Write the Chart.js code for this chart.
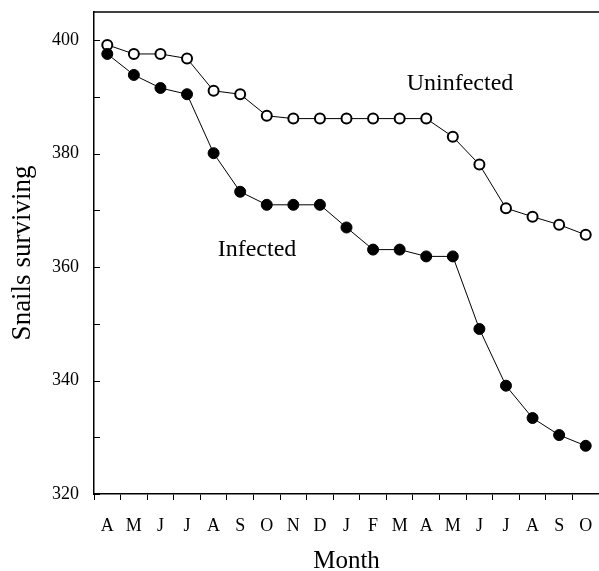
<!DOCTYPE html>
<html>
<head>
<meta charset="utf-8">
<style>
  html, body { margin: 0; padding: 0; background: #fff; overflow: hidden; }
  #wrap { width: 599px; height: 571px; position: relative; }
</style>
<script src="https://cdn.jsdelivr.net/npm/chart.js@4.4.1/dist/chart.umd.min.js"></script>
</head>
<body>
<div id="wrap"><canvas id="snails"></canvas></div>
<script>
// months from April to the following October
const months = ['A', 'M', 'J', 'J', 'A', 'S', 'O', 'N', 'D', 'J', 'F', 'M', 'A', 'M', 'J', 'J', 'A', 'S', 'O'];
const uninfected = [399.2, 397.6, 397.6, 396.8, 391.1, 390.5, 386.7, 386.2, 386.2, 386.2, 386.2, 386.2, 386.2, 383.0, 378.1, 370.4, 368.9, 367.5, 365.7];
const infected = [397.6, 393.9, 391.6, 390.5, 380.1, 373.3, 371.0, 371.0, 371.0, 367.0, 363.1, 363.1, 361.9, 361.9, 349.1, 339.1, 333.4, 330.4, 328.5];
const yLabels = [320, 340, 360, 380, 400];

const serif = '"Liberation Serif", "Times New Roman", serif';

// inside tick marks on the y axis, top frame line and the two series names
const extras = {
    id: 'extras',
    afterDraw(chart) {
        const ctx = chart.ctx;
        const area = chart.chartArea;
        const y = chart.scales.y;
        ctx.save();
        ctx.strokeStyle = '#000';
        ctx.lineWidth = 1;
        y.ticks.forEach(t => {
            const py = Math.round(y.getPixelForValue(t.value)) + 0.5;
            ctx.beginPath();
            ctx.moveTo(area.left, py);
            ctx.lineTo(area.left + 6, py);
            ctx.stroke();
        });
        ctx.lineWidth = 1.5;
        ctx.beginPath();
        ctx.moveTo(area.left, area.top);
        ctx.lineTo(area.right, area.top);
        ctx.stroke();

        ctx.fillStyle = '#000';
        ctx.font = '24px ' + serif;
        ctx.textAlign = 'center';
        ctx.textBaseline = 'middle';
        ctx.fillText('Uninfected', 460, 84);
        ctx.fillText('Infected', 257, 250);
        ctx.restore();
    }
};

document.addEventListener('DOMContentLoaded', function () {
    const ctx = document.getElementById('snails').getContext('2d');

    new Chart(ctx, {
        type: 'line',
        data: {
            labels: months,
            datasets: [
                {
                    label: 'Infected',
                    data: infected,
                    borderColor: '#000',
                    borderWidth: 1,
                    pointRadius: 5.5,
                    pointBorderWidth: 1,
                    pointBackgroundColor: '#000',
                    pointBorderColor: '#000',
                    tension: 0
                },
                {
                    label: 'Uninfected',
                    data: uninfected,
                    borderColor: '#000',
                    borderWidth: 1,
                    pointRadius: 5,
                    pointBorderWidth: 2,
                    pointBackgroundColor: '#fff',
                    pointBorderColor: '#000',
                    tension: 0
                }
            ]
        },
        options: {
            responsive: true,
            maintainAspectRatio: false,
            animation: false,
            layout: {
                autoPadding: false,
                padding: { top: 12, left: 0, right: 0, bottom: 0 }
            },
            plugins: {
                legend: { display: false },
                tooltip: { enabled: false }
            },
            scales: {
                x: {
                    type: 'category',
                    offset: true,
                    afterFit(scale) {
                        scale.height = 77;
                        scale.paddingLeft = 0;
                        scale.paddingRight = 0;
                    },
                    grid: {
                        offset: true,
                        drawOnChartArea: false,
                        drawTicks: true,
                        tickLength: 6,
                        color: '#000',
                        lineWidth: 1
                    },
                    border: { display: true, color: '#000', width: 1.5 },
                    ticks: {
                        color: '#000',
                        font: { family: serif, size: 18 },
                        padding: 15,
                        autoSkip: false,
                        maxRotation: 0
                    },
                    title: {
                        display: true,
                        text: 'Month',
                        color: '#000',
                        font: { family: serif, size: 25, lineHeight: 0.8 },
                        padding: { top: 0, bottom: 0 }
                    }
                },
                y: {
                    min: 320,
                    max: 405,
                    afterFit(scale) {
                        scale.width = 94;
                        scale.paddingTop = 0;
                        scale.paddingBottom = 0;
                    },
                    grid: { display: true, drawOnChartArea: false, drawTicks: false },
                    border: { display: true, color: '#000', width: 1.5 },
                    ticks: {
                        stepSize: 10,
                        includeBounds: false,
                        color: '#000',
                        font: { family: serif, size: 18 },
                        padding: 15,
                        callback: v => yLabels.includes(v) ? String(v) : ''
                    },
                    title: {
                        display: true,
                        text: 'Snails surviving',
                        color: '#000',
                        font: { family: serif, size: 27, lineHeight: 1 },
                        padding: { top: 9, bottom: 0 }
                    }
                }
            }
        },
        plugins: [extras]
    });
});
</script>
</body>
</html>
